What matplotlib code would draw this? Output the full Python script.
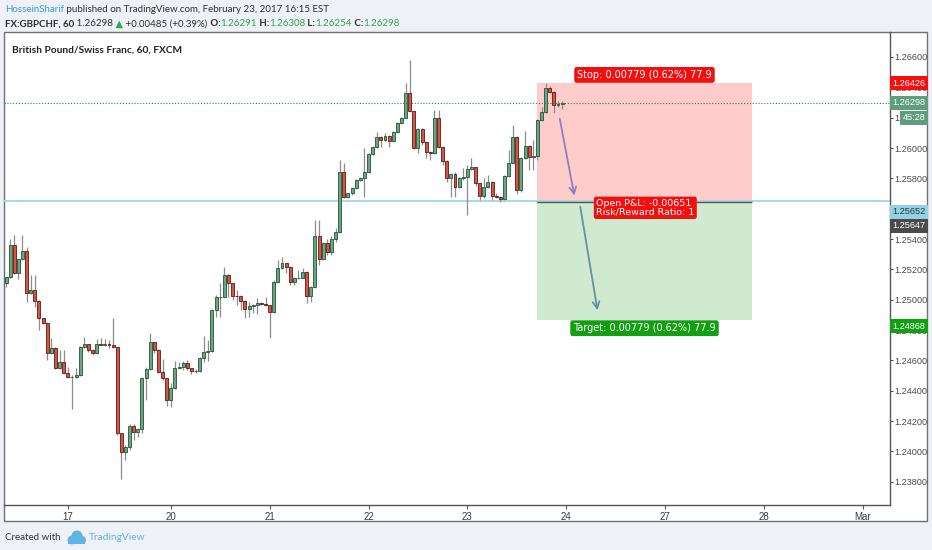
import matplotlib
matplotlib.use('Agg')
import matplotlib.pyplot as plt
from matplotlib.patches import Rectangle, Ellipse
from matplotlib.transforms import IdentityTransform, blended_transform_factory
import numpy as np

# GBPCHF hourly candles (oldest first)
first_open = 1.25108
closes = [
    1.25148, 1.25361, 1.25178, 1.25266, 1.25323, 1.25042, 1.25064, 1.24993, 1.24877, 1.24848,
    1.24647, 1.24680, 1.24548, 1.24591, 1.24515, 1.24488, 1.24492, 1.24504, 1.24690, 1.24706,
    1.24668, 1.24651, 1.24706, 1.24704, 1.24708, 1.24701, 1.24686, 1.24119, 1.23998, 1.24031,
    1.24167, 1.24126, 1.24146, 1.24482, 1.24541, 1.24719, 1.24668, 1.24525, 1.24482, 1.24339,
    1.24416, 1.24548, 1.24558, 1.24585, 1.24548, 1.24532, 1.24528, 1.24614, 1.24657, 1.24662,
    1.24932, 1.25016, 1.25020, 1.25163, 1.25108, 1.25026, 1.25024, 1.24991, 1.24939, 1.24960,
    1.24965, 1.24976, 1.24972, 1.24965, 1.24921, 1.25115, 1.25211, 1.25240, 1.25218, 1.25115,
    1.25141, 1.25145, 1.25185, 1.25026, 1.25086, 1.25422, 1.25268, 1.25372, 1.25312, 1.25400,
    1.25446, 1.25844, 1.25679, 1.25701, 1.25734, 1.25789, 1.25804, 1.25840, 1.25958, 1.26009,
    1.26071, 1.26053, 1.26079, 1.26048, 1.26107, 1.26167, 1.26200, 1.26365, 1.26246, 1.25998,
    1.26125, 1.26042, 1.25976, 1.25965, 1.26196, 1.26005, 1.25916, 1.25800, 1.25829, 1.25741,
    1.25800, 1.25807, 1.25860, 1.25873, 1.25767, 1.25684, 1.25743, 1.25776, 1.25684, 1.25680,
    1.25667, 1.25815, 1.25899, 1.26071, 1.25723, 1.25932, 1.26015, 1.25939, 1.25947, 1.26185,
    1.26239, 1.26394, 1.26371, 1.26284, 1.26291, 1.26298]
highs = [
    1.25152, 1.25398, 1.25427, 1.25270, 1.25427, 1.25350, 1.25163, 1.25163, 1.24998, 1.24882,
    1.24852, 1.24746, 1.24685, 1.24668, 1.24668, 1.24558, 1.24504, 1.24548, 1.24695, 1.24756,
    1.24710, 1.24672, 1.24741, 1.24746, 1.24741, 1.24735, 1.24882, 1.24690, 1.24124, 1.24043,
    1.24181, 1.24181, 1.24153, 1.24493, 1.24559, 1.24779, 1.24720, 1.24672, 1.24607, 1.24486,
    1.24449, 1.24598, 1.24591, 1.24598, 1.24602, 1.24552, 1.24541, 1.24620, 1.24763, 1.24734,
    1.24937, 1.25031, 1.25108, 1.25214, 1.25168, 1.25112, 1.25064, 1.25028, 1.24995, 1.24987,
    1.24970, 1.25009, 1.24987, 1.25020, 1.24968, 1.25130, 1.25262, 1.25280, 1.25245, 1.25222,
    1.25148, 1.25196, 1.25207, 1.25190, 1.25092, 1.25525, 1.25525, 1.25383, 1.25398, 1.25420,
    1.25473, 1.25921, 1.25899, 1.25706, 1.25738, 1.25794, 1.25812, 1.25998, 1.25964, 1.26015,
    1.26107, 1.26076, 1.26101, 1.26084, 1.26112, 1.26172, 1.26206, 1.26427, 1.26580, 1.26252,
    1.26130, 1.26130, 1.26047, 1.25980, 1.26250, 1.26250, 1.26010, 1.25920, 1.25835, 1.25844,
    1.25806, 1.25868, 1.25888, 1.25934, 1.25878, 1.25772, 1.25802, 1.25822, 1.25780, 1.25703,
    1.25685, 1.25820, 1.25987, 1.26152, 1.26076, 1.25938, 1.26112, 1.26020, 1.26053, 1.26190,
    1.26270, 1.26428, 1.26409, 1.26376, 1.26310, 1.26308]
lows = [
    1.25086, 1.25142, 1.25172, 1.25134, 1.25260, 1.24987, 1.25035, 1.24950, 1.24800, 1.24842,
    1.24602, 1.24640, 1.24542, 1.24542, 1.24510, 1.24482, 1.24278, 1.24486, 1.24498, 1.24684,
    1.24658, 1.24636, 1.24645, 1.24700, 1.24698, 1.24680, 1.24680, 1.24109, 1.23816, 1.23943,
    1.24010, 1.24076, 1.24097, 1.24120, 1.24339, 1.24535, 1.24647, 1.24515, 1.24471, 1.24300,
    1.24291, 1.24410, 1.24542, 1.24537, 1.24537, 1.24510, 1.24519, 1.24523, 1.24591, 1.24598,
    1.24655, 1.24888, 1.24888, 1.25015, 1.25020, 1.24998, 1.24965, 1.24932, 1.24877, 1.24888,
    1.24910, 1.24906, 1.24968, 1.24960, 1.24746, 1.24915, 1.25110, 1.25205, 1.25174, 1.25097,
    1.25097, 1.25136, 1.25140, 1.24976, 1.24987, 1.25080, 1.25229, 1.25262, 1.25295, 1.25295,
    1.25380, 1.25440, 1.25672, 1.25668, 1.25690, 1.25728, 1.25782, 1.25679, 1.25834, 1.25952,
    1.26003, 1.26009, 1.26047, 1.26009, 1.26042, 1.26101, 1.26161, 1.26195, 1.26240, 1.25992,
    1.25965, 1.26020, 1.25932, 1.25921, 1.25960, 1.26000, 1.25888, 1.25778, 1.25679, 1.25679,
    1.25735, 1.25789, 1.25558, 1.25855, 1.25750, 1.25657, 1.25670, 1.25738, 1.25657, 1.25670,
    1.25644, 1.25657, 1.25810, 1.25894, 1.25697, 1.25710, 1.25926, 1.25855, 1.25855, 1.25921,
    1.26180, 1.26233, 1.26365, 1.26231, 1.26270, 1.26254]
opens = [first_open] + closes[:-1]

price_ticks = [1.238, 1.240, 1.242, 1.244, 1.246, 1.248, 1.250, 1.252,
               1.254, 1.256, 1.258, 1.260, 1.262, 1.264, 1.266]
day_labels = ['17', '20', '21', '22', '23', '24', '27', '28', 'Mar']
day_pos = [15, 40, 64, 88, 112, 136, 160, 184, 208]

hline_price = 1.25652
entry_price = 1.25647
stop_price = 1.26426
target_price = 1.24868
last_price = 1.26298
pos_start, pos_end = 129, 181
arrow1 = [(134.3, 1.26211), (138.1, 1.25668)]
arrow2 = [(139.3, 1.25631), (143.7, 1.24912)]

W, H = 932, 550
plt.rcParams['font.family'] = ['Liberation Sans', 'DejaVu Sans']
ui_font = ['Lato', 'DejaVu Sans']

fig = plt.figure(figsize=(W / 100, H / 100), dpi=100, facecolor='#eef1f5')

# white chart panel, kept behind the axes
fig.patches.append(Rectangle((4 / W, 1 - 521 / H), 923 / W, 489 / H, transform=fig.transFigure,
                             fc='white', ec='#707070', lw=1, zorder=-5))

ax = fig.add_axes([4 / W, 1 - 505 / H, 886 / W, 473 / H])
ax.set_facecolor('none')
ax.set_xlim(-0.49, 214.6)
ax.set_ylim(1.236467, 1.267647)

# position tool (short)
ax.add_patch(Rectangle((pos_start, entry_price), pos_end - pos_start, stop_price - entry_price,
                       fc='#ffcccc', ec='none', zorder=1))
ax.add_patch(Rectangle((pos_start, target_price), pos_end - pos_start, entry_price - target_price,
                       fc='#cfeacf', ec='none', zorder=1))
ax.axhline(hline_price, color='#a3d6e4', lw=1.3, zorder=2)
ax.hlines(entry_price, pos_start, pos_end, color='#555555', lw=1, zorder=2.5)

# candles
idx = np.arange(len(closes))
o = np.array(opens)
c = np.array(closes)
h = np.array(highs)
l = np.array(lows)
up = c >= o
ax.vlines(idx, l, h, color='#8c8c8c', lw=0.9, zorder=3)
body_lo = np.minimum(o, c)
body_h = np.maximum(np.abs(c - o), 0.000012)
ax.bar(idx[up], body_h[up], 0.72, bottom=body_lo[up], color='#6ba583',
       edgecolor='#225437', lw=0.6, zorder=4)
ax.bar(idx[~up], body_h[~up], 0.72, bottom=body_lo[~up], color='#d75442',
       edgecolor='#5b1a13', lw=0.6, zorder=4)

ax.axhline(last_price, color='#3b7a5a', lw=0.8, ls=(0, (1, 1.6)), zorder=5)

# arrows
ax.annotate('', xy=arrow1[1], xytext=arrow1[0],
            arrowprops=dict(arrowstyle='->', color='#8d80c0', lw=1.3, mutation_scale=12), zorder=6)
ax.annotate('', xy=arrow2[1], xytext=arrow2[0],
            arrowprops=dict(arrowstyle='->', color='#6a8ea6', lw=1.3, mutation_scale=12), zorder=6)

mid = (pos_start + pos_end) / 2
ax.annotate('Stop: 0.00779 (0.62%) 77.9', xy=(mid, stop_price), xytext=(0, 2.5),
            textcoords='offset points', ha='center', va='bottom', fontsize=7,
            family='DejaVu Sans', color='white', zorder=8,
            bbox=dict(boxstyle='round,pad=0.3,rounding_size=0.25', fc='#f20f0f', ec='none'))
ax.annotate('Target: 0.00779 (0.62%) 77.9', xy=(mid, target_price), xytext=(0, -2.5),
            textcoords='offset points', ha='center', va='top', fontsize=7,
            family='DejaVu Sans', color='white', zorder=8,
            bbox=dict(boxstyle='round,pad=0.3,rounding_size=0.25', fc='#12a012', ec='none'))
ax.annotate('Open P&L: -0.00651\nRisk/Reward Ratio: 1', xy=(142.6, entry_price), xytext=(2, -4.5),
            textcoords='offset points', ha='left', va='center', fontsize=6.8,
            family='DejaVu Sans', color='white', zorder=8, linespacing=0.95,
            bbox=dict(boxstyle='round,pad=0.25,rounding_size=0.25', fc='#f20f0f', ec='none'))

# axes styling
for s in ['left', 'top']:
    ax.spines[s].set_visible(False)
for s in ['right', 'bottom']:
    ax.spines[s].set_color('#555555')
    ax.spines[s].set_linewidth(1)
ax.yaxis.tick_right()
ax.set_yticks(price_ticks)
ax.set_yticklabels([f'{p:.5f}' for p in price_ticks])
ax.set_xticks(day_pos)
ax.set_xticklabels(day_labels)
ax.tick_params(axis='y', direction='out', length=2.3, width=0.8, color='#555555',
               labelsize=6.6, labelcolor='#4a4a4a', pad=1)
ax.tick_params(axis='x', direction='out', length=3, width=0.8, color='#555555',
               labelsize=7, labelcolor='#3a3a3a', pad=2)

# price tags on the right axis
trans = blended_transform_factory(ax.transAxes, ax.transData)


def tag(price, text, bg, fg, dy=0, dx=0):
    ax.annotate(text, xy=(1, price), xycoords=trans, xytext=(1.6 + dx, dy),
                textcoords='offset points', ha='left', va='center', fontsize=6.6,
                color=fg, annotation_clip=False, zorder=10,
                bbox=dict(boxstyle='square,pad=0.28', fc=bg, ec='none'))


tag(stop_price, '1.26426', '#f50f0f', 'white')
tag(last_price, '1.26298', '#5e9e7c', 'white')
tag(last_price, '45:28', '#5e9e7c', 'white', dy=-10.8, dx=7.6)
tag(hline_price, '1.25652', '#94d1e2', '#1f3a46', dy=-8)
tag(entry_price, '1.25647', '#4a4a4a', 'white', dy=-17.5)
tag(target_price, '1.24868', '#12a012', 'white', dy=-4.8)

fig.text(12 / W, 1 - 50 / H, 'British Pound/Swiss Franc, 60, FXCM', fontsize=7.3,
         fontweight='bold', family=ui_font, color='#222222', va='center', ha='left')

# header
renderer = fig.canvas.get_renderer()


def text_run(x, y, pieces, size):
    for s, color, weight in pieces:
        t = fig.text(x / W, 1 - y / H, s, fontsize=size, color=color, fontweight=weight,
                     family=ui_font, va='center', ha='left')
        x += t.get_window_extent(renderer).width


dark = '#2f2f2f'
grn = '#2fa84a'
text_run(5, 9, [('HosseinSharif', '#3d9ad8', 'normal'),
                (' published on TradingView.com, February 23, 2017 16:15 EST', dark, 'normal')], 7.05)
text_run(5, 24, [('FX:GBPCHF, 60', dark, 'bold'), (' 1.26298', dark, 'normal'),
                 (' \u25b2', grn, 'normal'), (' +0.00485 (+0.39%)', dark, 'normal'),
                 (' O:', dark, 'bold'), ('1.26291', grn, 'normal'),
                 (' H:', dark, 'bold'), ('1.26308', grn, 'normal'),
                 (' L:', dark, 'bold'), ('1.26254', grn, 'normal'),
                 (' C:', dark, 'bold'), ('1.26298', grn, 'normal')], 7.0)

# footer
fig.text(5 / W, 1 - 537 / H, 'Created with', fontsize=7, family=ui_font,
         color='#333333', va='center', ha='left')
logo_c = '#5eb4e2'
for cx, cy, r in [(72, 540, 4.5), (77, 536, 5.5), (82, 540, 4)]:
    fig.patches.append(Ellipse((cx, H - cy), 2 * r, 2 * r, transform=IdentityTransform(),
                               fc=logo_c, ec='none'))
fig.patches.append(Rectangle((68, H - 544), 17, 5, transform=IdentityTransform(), fc=logo_c, ec='none'))
fig.text(89 / W, 1 - 537 / H, 'TradingView', fontsize=7.3, family=ui_font,
         color=logo_c, va='center', ha='left')

fig.savefig('out.png', dpi=100, facecolor=fig.get_facecolor())
